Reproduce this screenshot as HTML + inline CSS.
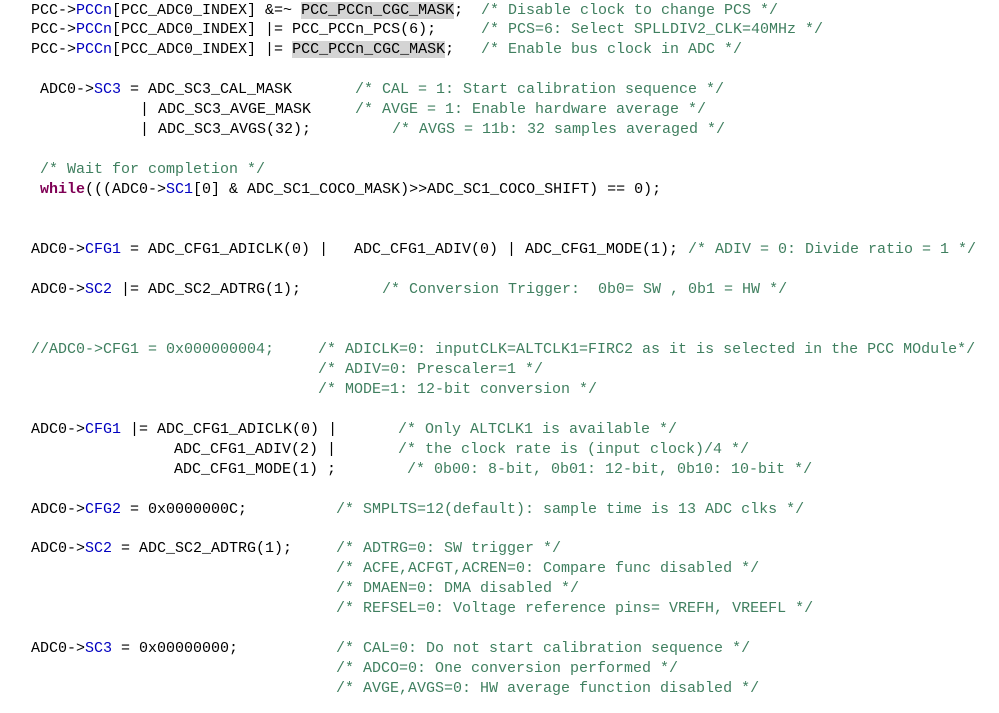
<!DOCTYPE html>
<html><head><meta charset="utf-8"><style>
body{margin:0;background:#fff;width:999px;height:713px;position:relative;overflow:hidden}
.l{position:absolute;white-space:pre;font-family:"Liberation Mono",monospace;font-size:15px;line-height:20px;color:#000}
.b{color:#0000c0}.c{color:#3f7f5f}.k{color:#7f0055;font-weight:bold}.h{background:#d4d4d4}
</style></head><body>
<div class="l" style="left:31px;top:1px">PCC-&gt;<span class="b">PCCn</span>[PCC_ADC0_INDEX] &amp;=~ <span class="h">PCC_PCCn_CGC_MASK</span>;</div>
<div class="l c" style="left:481px;top:1px">/* Disable clock to change PCS */</div>
<div class="l" style="left:31px;top:20px">PCC-&gt;<span class="b">PCCn</span>[PCC_ADC0_INDEX] |= PCC_PCCn_PCS(6);</div>
<div class="l c" style="left:481px;top:20px">/* PCS=6: Select SPLLDIV2_CLK=40MHz */</div>
<div class="l" style="left:31px;top:40px">PCC-&gt;<span class="b">PCCn</span>[PCC_ADC0_INDEX] |= <span class="h">PCC_PCCn_CGC_MASK</span>;</div>
<div class="l c" style="left:481px;top:40px">/* Enable bus clock in ADC */</div>

<div class="l" style="left:40px;top:80px">ADC0-&gt;<span class="b">SC3</span> = ADC_SC3_CAL_MASK</div>
<div class="l c" style="left:355px;top:80px">/* CAL = 1: Start calibration sequence */</div>
<div class="l" style="left:140px;top:100px">| ADC_SC3_AVGE_MASK</div>
<div class="l c" style="left:355px;top:100px">/* AVGE = 1: Enable hardware average */</div>
<div class="l" style="left:140px;top:120px">| ADC_SC3_AVGS(32);</div>
<div class="l c" style="left:392px;top:120px">/* AVGS = 11b: 32 samples averaged */</div>

<div class="l c" style="left:40px;top:160px">/* Wait for completion */</div>
<div class="l" style="left:40px;top:180px"><span class="k">while</span>(((ADC0-&gt;<span class="b">SC1</span>[0] &amp; ADC_SC1_COCO_MASK)&gt;&gt;ADC_SC1_COCO_SHIFT) == 0);</div>

<div class="l" style="left:31px;top:240px">ADC0-&gt;<span class="b">CFG1</span> = ADC_CFG1_ADICLK(0) |</div>
<div class="l" style="left:354px;top:240px">ADC_CFG1_ADIV(0) | ADC_CFG1_MODE(1);</div>
<div class="l c" style="left:688px;top:240px">/* ADIV = 0: Divide ratio = 1 */</div>

<div class="l" style="left:31px;top:280px">ADC0-&gt;<span class="b">SC2</span> |= ADC_SC2_ADTRG(1);</div>
<div class="l c" style="left:382px;top:280px">/* Conversion Trigger:  0b0= SW , 0b1 = HW */</div>

<div class="l c" style="left:31px;top:340px">//ADC0-&gt;CFG1 = 0x000000004;</div>
<div class="l c" style="left:318px;top:340px">/* ADICLK=0: inputCLK=ALTCLK1=FIRC2 as it is selected in the PCC MOdule*/</div>
<div class="l c" style="left:318px;top:360px">/* ADIV=0: Prescaler=1 */</div>
<div class="l c" style="left:318px;top:380px">/* MODE=1: 12-bit conversion */</div>

<div class="l" style="left:31px;top:420px">ADC0-&gt;<span class="b">CFG1</span> |= ADC_CFG1_ADICLK(0) |</div>
<div class="l c" style="left:398px;top:420px">/* Only ALTCLK1 is available */</div>
<div class="l" style="left:174px;top:440px">ADC_CFG1_ADIV(2) |</div>
<div class="l c" style="left:398px;top:440px">/* the clock rate is (input clock)/4 */</div>
<div class="l" style="left:174px;top:460px">ADC_CFG1_MODE(1) ;</div>
<div class="l c" style="left:407px;top:460px">/* 0b00: 8-bit, 0b01: 12-bit, 0b10: 10-bit */</div>

<div class="l" style="left:31px;top:500px">ADC0-&gt;<span class="b">CFG2</span> = 0x0000000C;</div>
<div class="l c" style="left:336px;top:500px">/* SMPLTS=12(default): sample time is 13 ADC clks */</div>

<div class="l" style="left:31px;top:539px">ADC0-&gt;<span class="b">SC2</span> = ADC_SC2_ADTRG(1);</div>
<div class="l c" style="left:336px;top:539px">/* ADTRG=0: SW trigger */</div>
<div class="l c" style="left:336px;top:559px">/* ACFE,ACFGT,ACREN=0: Compare func disabled */</div>
<div class="l c" style="left:336px;top:579px">/* DMAEN=0: DMA disabled */</div>
<div class="l c" style="left:336px;top:599px">/* REFSEL=0: Voltage reference pins= VREFH, VREEFL */</div>

<div class="l" style="left:31px;top:639px">ADC0-&gt;<span class="b">SC3</span> = 0x00000000;</div>
<div class="l c" style="left:336px;top:639px">/* CAL=0: Do not start calibration sequence */</div>
<div class="l c" style="left:336px;top:659px">/* ADCO=0: One conversion performed */</div>
<div class="l c" style="left:336px;top:679px">/* AVGE,AVGS=0: HW average function disabled */</div>
</body></html>
